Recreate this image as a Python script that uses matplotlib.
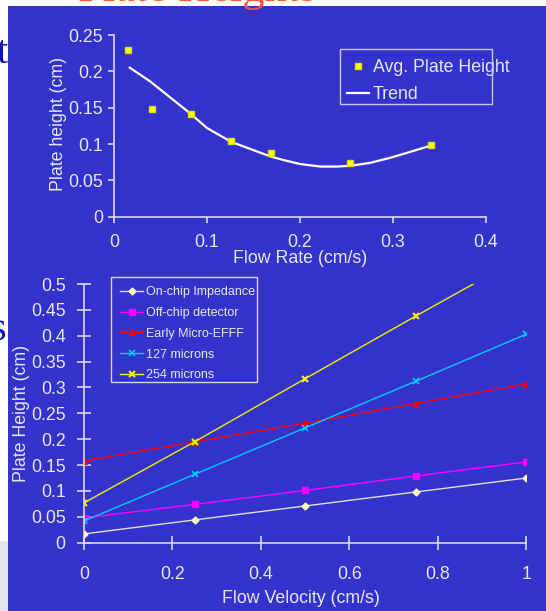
import matplotlib.pyplot as plt
from matplotlib.patches import Rectangle

# Top chart data
flow_rate = [0.015, 0.041, 0.083, 0.126, 0.169, 0.254, 0.341]
avg_plate_height = [0.230, 0.148, 0.141, 0.104, 0.088, 0.074, 0.099]
trend_x = [0.017, 0.039, 0.083, 0.100, 0.126, 0.168, 0.182, 0.200, 0.222, 0.239, 0.254, 0.275, 0.297, 0.318, 0.341]
trend_y = [0.205, 0.186, 0.141, 0.122, 0.103, 0.083, 0.078, 0.0725, 0.069, 0.069, 0.070, 0.074, 0.081, 0.089, 0.098]

# Bottom chart data
flow_velocity = [0, 0.25, 0.5, 0.75, 1.0]
series_names = ["On-chip Impedance", "Off-chip detector", "Early Micro-EFFF", "127 microns", "254 microns"]
on_chip = [0.017, 0.044, 0.071, 0.098, 0.125]
off_chip = [0.048, 0.074, 0.101, 0.129, 0.156]
early_efff = [0.158, 0.195, 0.231, 0.269, 0.307]
microns_127 = [0.042, 0.132, 0.222, 0.312, 0.403]
microns_254 = [0.077, 0.195, 0.317, 0.438, 0.557]

top_yticks = [0, 0.05, 0.1, 0.15, 0.2, 0.25]
top_ylabels = ["0", "0.05", "0.1", "0.15", "0.2", "0.25"]
top_xticks = [0, 0.1, 0.2, 0.3, 0.4]
top_xlabels = ["0", "0.1", "0.2", "0.3", "0.4"]
bot_yticks = [0, 0.05, 0.1, 0.15, 0.2, 0.25, 0.3, 0.35, 0.4, 0.45, 0.5]
bot_ylabels = ["0", "0.05", "0.1", "0.15", "0.2", "0.25", "0.3", "0.35", "0.4", "0.45", "0.5"]
bot_xticks = [0, 0.2, 0.4, 0.6, 0.8, 1.0]
bot_xlabels = ["0", "0.2", "0.4", "0.6", "0.8", "1"]

plt.rcParams['font.family'] = ['Liberation Sans', 'DejaVu Sans']
txt = '#e8e8f4'
bg = '#3333cc'
fs = 12.8

W, H = 546, 611
fig = plt.figure(figsize=(5.46, 6.11), dpi=100, facecolor='white')


def px_rect(x0, y0, x1, y1, **kw):
    # rectangle given in pixels from the top-left corner
    return Rectangle((x0 / W, 1 - y1 / H), (x1 - x0) / W, (y1 - y0) / H,
                     transform=fig.transFigure, **kw)


# slide background pieces
fig.patches.append(px_rect(8, 6, W, H, facecolor=bg, edgecolor='none', zorder=-5))
fig.patches.append(px_rect(0, 541, 8, H, facecolor='#dfe3ea', edgecolor='none', zorder=-5))
fig.text(316 / W, 1 - 1.5 / H, "Plate Heights", color='#ff5050', fontsize=32,
         family='Liberation Serif', ha='right', va='baseline', zorder=-4)
fig.text(7.5 / W, 1 - 63 / H, "t", color='#1010c0', fontsize=29,
         family='Liberation Serif', ha='right', va='baseline')
fig.text(5.5 / W, 1 - 340 / H, "s", color='#1010c0', fontsize=29,
         family='Liberation Serif', ha='right', va='baseline')


def style_axes(ax):
    ax.set_facecolor('none')
    for s in ['top', 'right']:
        ax.spines[s].set_visible(False)
    for s in ['left', 'bottom']:
        ax.spines[s].set_color('#d8d8ec')
        ax.spines[s].set_linewidth(1.2)


# Top chart
ax1 = fig.add_axes([114 / W, 1 - 216.7 / H, 372 / W, 181.7 / H])
style_axes(ax1)
ax1.plot(trend_x, trend_y, color='white', lw=1.6, label='Trend', zorder=2)
ax1.plot(flow_rate, avg_plate_height, ls='none', marker='s', ms=5, color='#ffff00',
         mec='#e0e000', label='Avg. Plate Height', zorder=3)
ax1.set_xlim(0, 0.4)
ax1.set_ylim(0, 0.25)
ax1.set_xticks(top_xticks, top_xlabels)
ax1.set_yticks(top_yticks, top_ylabels)
ax1.tick_params(colors='#d8d8ec', labelcolor=txt, labelsize=fs, length=4, width=1.2)
ax1.tick_params(axis='x', pad=8.5)
ax1.tick_params(axis='y', pad=4)
ax1.set_xlabel("Flow Rate (cm/s)", color=txt, fontsize=fs)
ax1.set_ylabel("Plate height (cm)", color=txt, fontsize=fs)
ax1.xaxis.set_label_coords(0.5, -0.186)
ax1.yaxis.set_label_coords(-0.126, 0.51)
h, l = ax1.get_legend_handles_labels()
leg1 = ax1.legend([h[1], h[0]], [l[1], l[0]], loc='upper left', bbox_to_anchor=(0.6255, 0.866),
                  fontsize=fs, frameon=False, handlelength=1.28, handletextpad=0.2,
                  labelspacing=0.55, borderpad=0, borderaxespad=0)
for t in leg1.get_texts():
    t.set_color(txt)
fig.patches.append(px_rect(339.7, 48.7, 492.3, 104, facecolor='none',
                           edgecolor='#c8c8e8', lw=1, zorder=5))

# Bottom chart
ax2 = fig.add_axes([84 / W, 1 - 542.7 / H, 442.3 / W, 258.7 / H])
style_axes(ax2)
ax2.plot(flow_velocity, on_chip, color='#e0e0d8', lw=1, marker='D', ms=3.5,
         mfc='#ffffc0', mec='#ffffc0', label=series_names[0])
ax2.plot(flow_velocity, off_chip, color='#ff00ff', lw=1, marker='s', ms=4,
         mfc='#ff00ff', mec='#ff00ff', label=series_names[1])
ax2.plot(flow_velocity, early_efff, color='#ff0000', lw=1, marker='^', ms=5,
         mfc='#ff0000', mec='#ff0000', label=series_names[2])
ax2.plot(flow_velocity, microns_127, color='#00ccff', lw=1, marker='x', ms=5,
         mew=1.2, label=series_names[3])
ax2.plot(flow_velocity, microns_254, color='#f0f000', lw=1, marker='x', ms=5,
         mew=1.5, label=series_names[4])
ax2.set_xlim(0, 1)
ax2.set_ylim(0, 0.5)
ax2.set_xticks(bot_xticks, bot_xlabels)
ax2.set_yticks(bot_yticks, bot_ylabels)
ax2.tick_params(direction='inout', colors='#d8d8ec', labelcolor=txt, labelsize=fs,
                length=9.5, width=1.2)
ax2.tick_params(axis='x', pad=12)
ax2.tick_params(axis='y', pad=8.5)
ax2.set_xlabel("Flow Velocity (cm/s)", color=txt, fontsize=fs)
ax2.set_ylabel("Plate Height (cm)", color=txt, fontsize=fs)
ax2.xaxis.set_label_coords(0.49, -0.183)
ax2.yaxis.set_label_coords(-0.122, 0.5)
leg2 = ax2.legend(loc='upper left', bbox_to_anchor=(0.0814, 0.991), fontsize=9,
                  frameon=False, handlelength=1.85, handletextpad=0.2,
                  labelspacing=0.7, borderpad=0, borderaxespad=0)
for t in leg2.get_texts():
    t.set_color(txt)
fig.patches.append(px_rect(111, 277.3, 256.7, 382.3, facecolor='none',
                           edgecolor='#d8d8ec', lw=1, zorder=5))

fig.savefig('out.png', dpi=100, facecolor='white')
